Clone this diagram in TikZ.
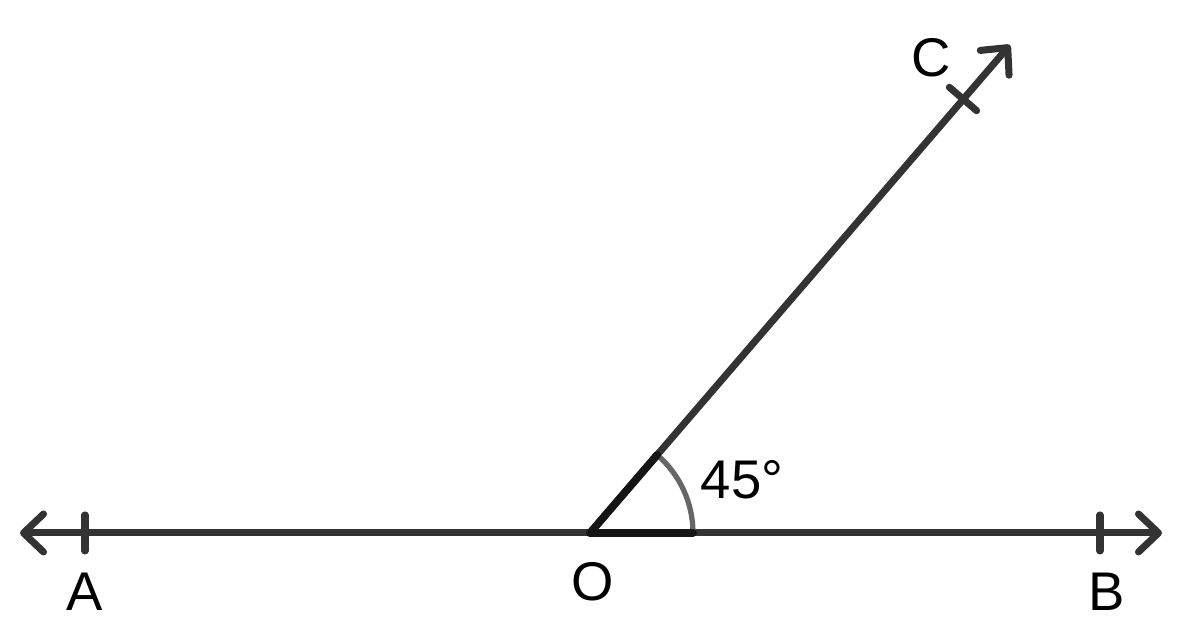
\documentclass[tikz,border=0pt]{standalone}
\usepackage{fontspec}
\setmainfont{Liberation Sans}
\usetikzlibrary{arrows.meta,calc}
\definecolor{ink}{HTML}{333333}
\definecolor{darkink}{HTML}{151515}
\definecolor{arcgray}{HTML}{666666}
\tikzset{
 ray/.style={line width=2pt,draw=ink,line cap=round,
  >={Straight Barb[length=.2cm,width=.38cm,round]}},
 tickmark/.style={line width=2pt,draw=ink,line cap=round},
 anglemark/.style={line width=2.2pt,draw=darkink,line cap=round},
 anglearc/.style={line width=1.5pt,draw=arcgray},
 lbl/.style={font=\fontsize{15.5}{18}\selectfont,inner sep=0pt}
}
\begin{document}
\begin{tikzpicture}
\useasboundingbox (0,0) rectangle (11.85,6.39);
%points
\coordinate (O) at (5.90,1.06);
\coordinate (L) at (0.20,1.06);
\coordinate (R) at (11.62,1.06);
\coordinate (T) at (10.10,5.94);
\coordinate (A) at (0.85,1.06);
\coordinate (B) at (11.00,1.06);
\coordinate (C) at (9.63,5.40);
%line AB
\draw[ray,<->](L)--(R);
%ray OC
\draw[ray,->](O)--(T);
%ticks
\draw[tickmark]($(A)+(0,.18)$)--($(A)+(0,-.18)$);
\draw[tickmark]($(B)+(0,.18)$)--($(B)+(0,-.18)$);
\draw[tickmark]($(C)+(139.3:.18)$)--($(C)+(-40.7:.18)$);
%angle mark
\draw[anglearc]($(O)+(1.03,0)$)arc(0:49.3:1.03);
\draw[anglemark](O)--($(O)+(1.03,0)$);
\draw[anglemark](O)--($(O)+(49.3:1.03)$);
%labels
\node[lbl](la)at(0.85,0.47){A};
\node[lbl](lo)at(5.93,0.57){O};
\node[lbl](lb)at(11.07,0.47){B};
\node[lbl](lc)at(9.31,5.81){C};
\node[lbl](lang)at(7.42,1.59){45°};
\end{tikzpicture}
\end{document}
